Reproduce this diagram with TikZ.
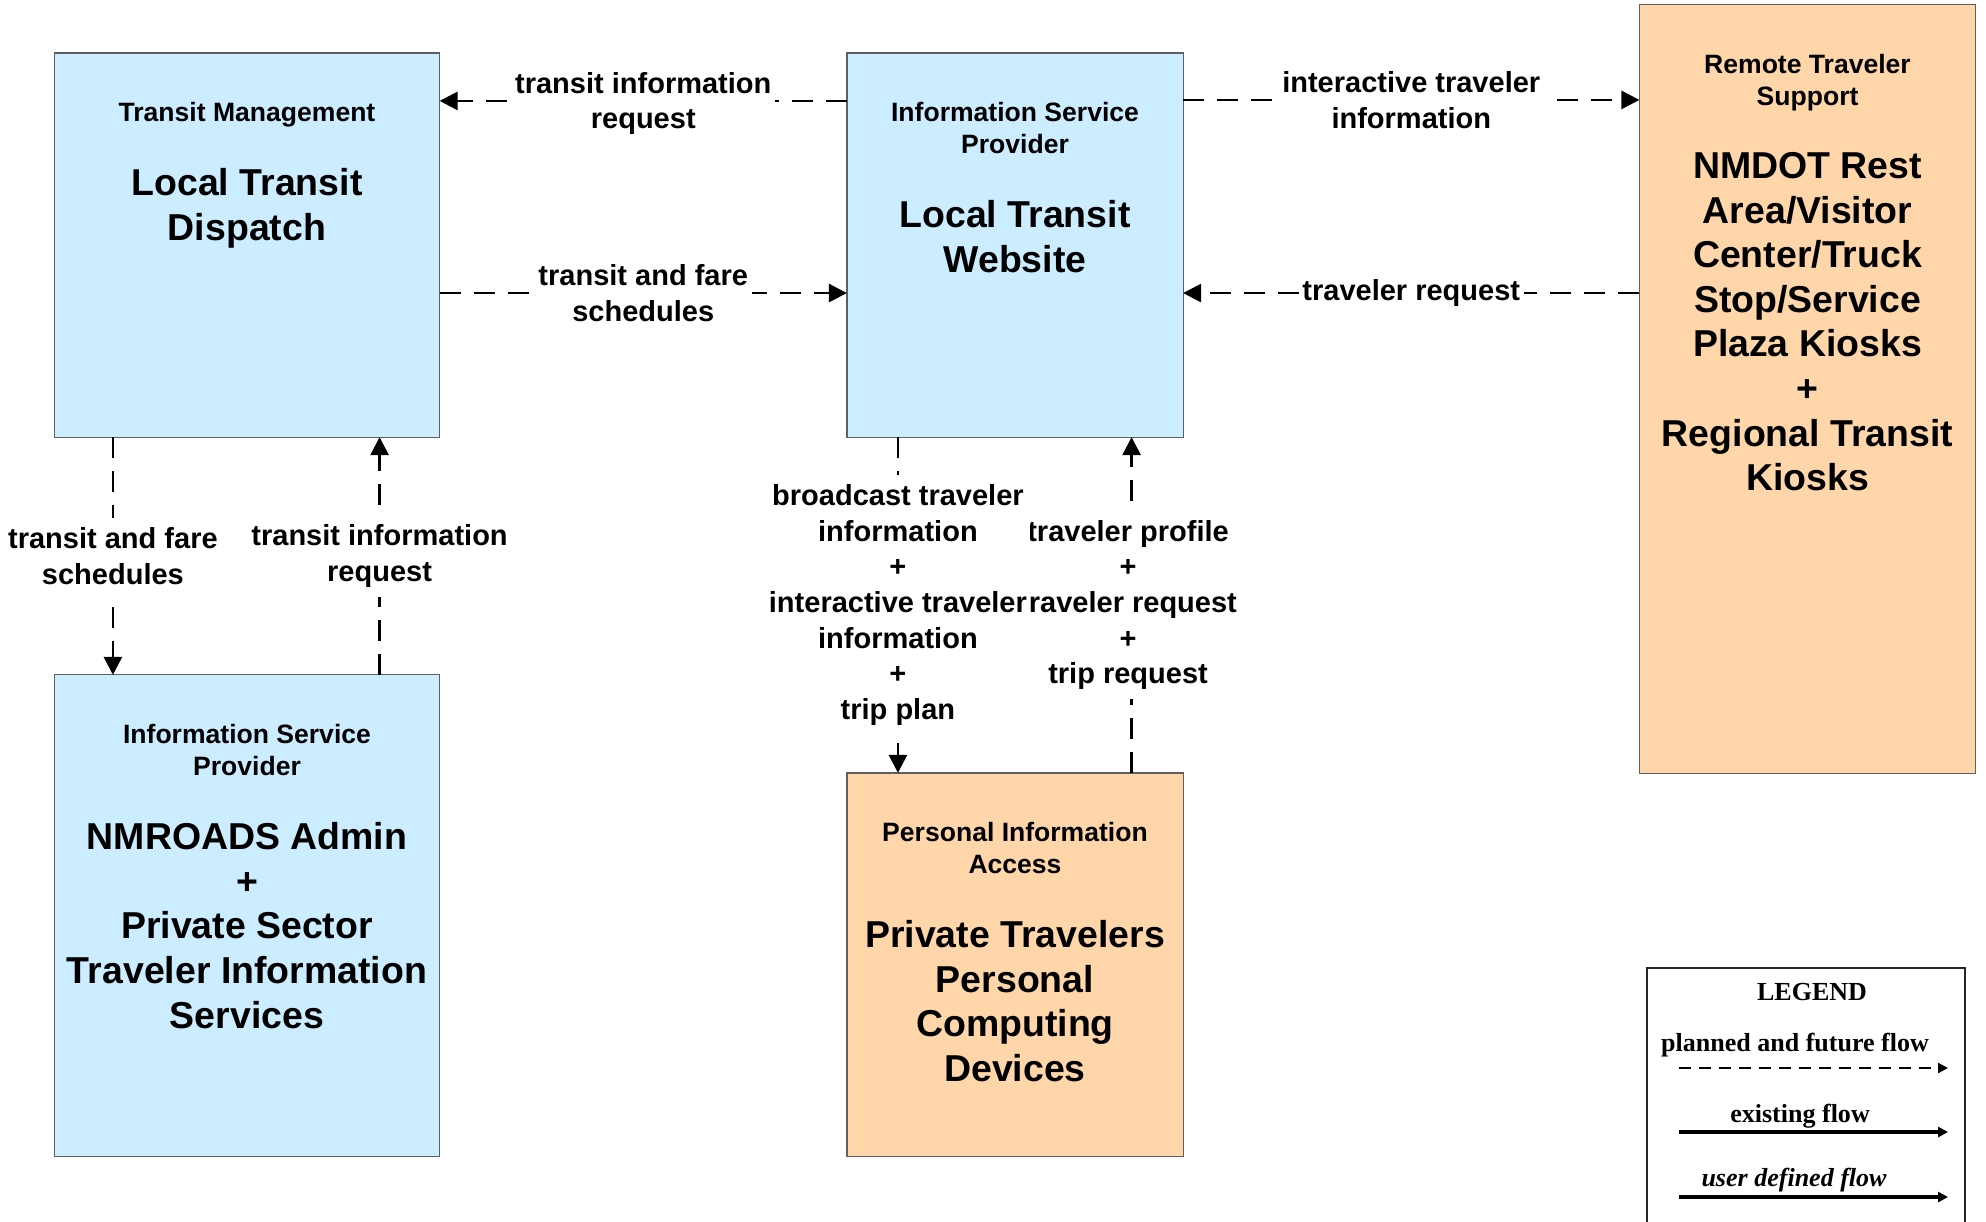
\documentclass[tikz,border=0pt]{standalone}
\usepackage{fontspec}
\setmainfont{Liberation Sans}
\newfontfamily\legendserif{Liberation Serif}
\usepackage{tikz}
\usetikzlibrary{arrows.meta, positioning, calc}

\definecolor{ispblue}{RGB}{204,236,255}
\definecolor{termpeach}{RGB}{255,214,170}
\definecolor{boxedge}{RGB}{95,95,95}

\newcommand{\archtitle}{\fontsize{7.55}{9.1}\selectfont\bfseries}
\newcommand{\archname}{\fontsize{10.65}{12.7}\selectfont\bfseries}
\newcommand{\archflow}{\fontsize{8.25}{10.1}\selectfont\bfseries}
\newcommand{\archlegend}{\legendserif\fontsize{7.4}{9}\selectfont\bfseries}

\begin{document}
\begin{tikzpicture}[x=0.01cm, y=-0.01cm,
        entity/.style={draw=boxedge, line width=0.35pt, inner sep=0pt, outer sep=0pt},
        subsys/.style={entity, fill=ispblue},
        terminator/.style={entity, fill=termpeach},
        head/.style={font=\archtitle, align=center, inner sep=0pt, text depth=0pt},
        sysname/.style={font=\archname, align=center, inner sep=0pt},
        flow/.style={line width=0.77pt, dash pattern=on 0.21cm off 0.13cm,
                -{Triangle[length=0.18cm, width=0.18cm]}},
        lbl/.style={font=\archflow, align=center, fill=white, inner xsep=1pt, inner ysep=2.8pt},
        legtext/.style={font=\archlegend, inner sep=0pt},
        legflow/.style={line width=1pt, -{Triangle[length=0.1cm, width=0.1cm]}}]
                \useasboundingbox (0,0) rectangle (1986,1221);
                % boxes
                \node[subsys, minimum width=3.85cm, minimum height=3.84cm] (tmc) at (247,245) {};
                \node[subsys, minimum width=3.36cm, minimum height=3.84cm] (isp) at (1015,245) {};
                \node[terminator, minimum width=3.36cm, minimum height=7.68cm] (rts) at (1807.5,389) {};
                \node[subsys, minimum width=3.85cm, minimum height=4.81cm] (nmr) at (247,915.5) {};
                \node[terminator, minimum width=3.36cm, minimum height=3.835cm] (pia) at (1015,964.75) {};
                % box texts
                \node[head, below=0.49cm of tmc.north] (tmc-h) {Transit Management};
                \node[sysname, below=0.45cm of tmc-h] (tmc-n) {Local Transit\\Dispatch};
                \node[head, below=0.49cm of isp.north] (isp-h) {Information Service\\Provider};
                \node[sysname, below=0.45cm of isp-h] (isp-n) {Local Transit\\Website};
                \node[head, below=0.49cm of rts.north] (rts-h) {Remote Traveler\\Support};
                \node[sysname, below=0.45cm of rts-h] (rts-n) {NMDOT Rest\\Area/Visitor\\Center/Truck\\Stop/Service\\Plaza Kiosks\\+\\Regional Transit\\Kiosks};
                \node[head, below=0.49cm of nmr.north] (nmr-h) {Information Service\\Provider};
                \node[sysname, below=0.45cm of nmr-h] (nmr-n) {NMROADS Admin\\+\\Private Sector\\Traveler Information\\Services};
                \node[head, below=0.49cm of pia.north] (pia-h) {Personal Information\\Access};
                \node[sysname, below=0.45cm of pia-h] (pia-n) {Private Travelers\\Personal\\Computing\\Devices};
                % flows
                \draw[flow] ([yshift=-0.48cm]isp.north west) -- node[lbl, yshift=-0.7pt]{transit information\\request} ([yshift=-0.48cm]tmc.north east);
                \draw[flow] ([yshift=-2.4cm]tmc.north east) -- node[lbl]{transit and fare\\schedules} ([yshift=-2.4cm]isp.north west);
                \coordinate (itv) at ([yshift=-0.47cm]isp.north east);
                \draw[flow] (itv) -- node[lbl]{interactive traveler\\information} (itv -| rts.west);
                \coordinate (trq) at ([yshift=-2.4cm]isp.north east);
                \draw[flow] (trq -| rts.west) -- node[lbl]{traveler request} (trq);
                \coordinate (tfs) at ([xshift=0.585cm]tmc.south west);
                \draw[flow] (tfs) -- node[lbl]{transit and fare\\schedules} (tfs |- nmr.north);
                \coordinate (tir) at ([xshift=-0.6cm]tmc.south east);
                \draw[flow] (tir |- nmr.north) -- node[lbl]{transit information\\request} (tir);
                \coordinate (tpr) at ([xshift=-0.515cm]isp.south east);
                \draw[flow] (tpr |- pia.north) -- node[lbl, xshift=-0.035cm]{traveler profile\\+\\traveler request\\+\\trip request} (tpr);
                \coordinate (btr) at ([xshift=0.51cm]isp.south west);
                \draw[flow] (btr) -- node[lbl]{broadcast traveler\\information\\+\\interactive traveler\\information\\+\\trip plan} (btr |- pia.north);
                % legend
                \draw[line width=0.6pt, draw=black!85] (1647,1240) |- (1965,968) -- (1965,1240);
                \node[legtext] (lg) at (1812,992) {LEGEND};
                \node[legtext] (lg-p) at (1795,1045) {planned and future flow};
                \node[legtext] (lg-e) at (1800,1116) {existing flow};
                \node[legtext] (lg-u) at (1794,1180) {\itshape user defined flow};
                \draw[legflow, line width=0.6pt, dash pattern=on 0.12cm off 0.08cm] (1679,1068) -- (1948,1068);
                \draw[legflow] (1679,1132) -- (1948,1132);
                \draw[legflow] (1679,1197) -- (1948,1197);
            \end{tikzpicture}
\end{document}
